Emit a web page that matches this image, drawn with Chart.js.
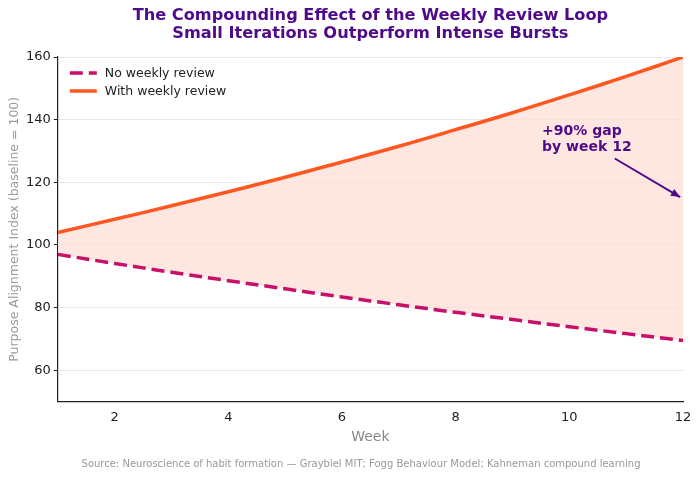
<!DOCTYPE html>
<html>
<head>
<meta charset="utf-8">
<script src="https://cdn.jsdelivr.net/npm/chart.js@4/dist/chart.umd.min.js"></script>
<style>
    html, body { margin: 0; padding: 0; background: #fff; }
    #wrap { width: 700px; height: 480px; }
</style>
</head>
<body>
<div id="wrap"><canvas id="chart"></canvas></div>
<script>
const weeks = [1, 2, 3, 4, 5, 6, 7, 8, 9, 10, 11, 12];
const noReview = [97, 94.1, 91.3, 88.6, 86.0, 83.4, 80.9, 78.5, 76.2, 73.9, 71.7, 69.5];
const withReview = [104, 108.2, 112.5, 117.0, 121.6, 126.5, 131.5, 136.8, 142.2, 147.9, 153.8, 160];
const xTicks = [2, 4, 6, 8, 10, 12];
const yTicks = [60, 80, 100, 120, 140, 160];

const titleLines = ['The Compounding Effect of the Weekly Review Loop', 'Small Iterations Outperform Intense Bursts'];
const sourceText = 'Source: Neuroscience of habit formation \u2014 Graybiel MIT; Fogg Behaviour Model; Kahneman compound learning';

const purple = '#4f0a8a';
const font = "'DejaVu Sans', sans-serif";

// title over the plot area and source line under it
const texts = {
    id: 'texts',
    afterDraw(chart) {
        const ctx = chart.ctx;
        const area = chart.chartArea;
        const cx = (area.left + area.right) / 2;
        ctx.save();
        ctx.textAlign = 'center';
        ctx.textBaseline = 'middle';
        ctx.fillStyle = purple;
        ctx.font = 'bold 16.2px ' + font;
        ctx.fillText(titleLines[0], cx, 16);
        ctx.fillText(titleLines[1], cx, 34);
        ctx.fillStyle = '#999';
        ctx.font = '10px ' + font;
        ctx.fillText(sourceText, chart.width / 2 + 11, 464);
        ctx.restore();
    }
};

// legend drawn inside the plot, stacked like the original
const innerLegend = {
    id: 'innerLegend',
    afterDraw(chart) {
        const ctx = chart.ctx;
        const area = chart.chartArea;
        ctx.save();
        chart.data.datasets.forEach((ds, i) => {
            const y = area.top + 16 + i * 18;
            const x = area.left + 12;
            ctx.strokeStyle = ds.borderColor;
            ctx.lineWidth = ds.borderWidth;
            ctx.setLineDash(ds.borderDash || []);
            ctx.beginPath();
            ctx.moveTo(x, y);
            ctx.lineTo(x + 27, y);
            ctx.stroke();
            ctx.setLineDash([]);
            ctx.fillStyle = '#222';
            ctx.font = '12.5px ' + font;
            ctx.textBaseline = 'middle';
            ctx.fillText(ds.label, x + 35, y + 1);
        });
        ctx.restore();
    }
};

// "+90% gap" note with arrow, placed in data coordinates
const gapNote = {
    id: 'gapNote',
    afterDraw(chart) {
        const xs = chart.scales.x, ys = chart.scales.y;
        const ctx = chart.ctx;
        ctx.save();
        ctx.fillStyle = purple;
        ctx.font = 'bold 14px ' + font;
        ctx.textBaseline = 'middle';
        const tx = xs.getPixelForValue(9.52);
        ctx.fillText('+90% gap', tx, ys.getPixelForValue(136.3));
        ctx.fillText('by week 12', tx, ys.getPixelForValue(131.2));
        const x0 = xs.getPixelForValue(10.8), y0 = ys.getPixelForValue(127.6);
        const x1 = xs.getPixelForValue(11.95), y1 = ys.getPixelForValue(115.3);
        ctx.strokeStyle = purple;
        ctx.lineWidth = 2;
        ctx.beginPath();
        ctx.moveTo(x0, y0);
        ctx.lineTo(x1, y1);
        ctx.stroke();
        const a = Math.atan2(y1 - y0, x1 - x0);
        ctx.beginPath();
        ctx.moveTo(x1, y1);
        ctx.lineTo(x1 - 10 * Math.cos(a - 0.4), y1 - 10 * Math.sin(a - 0.4));
        ctx.lineTo(x1 - 10 * Math.cos(a + 0.4), y1 - 10 * Math.sin(a + 0.4));
        ctx.closePath();
        ctx.fill();
        ctx.restore();
    }
};

const data = {
    labels: weeks,
    datasets: [
        {
            label: 'No weekly review',
            data: weeks.map((w, i) => ({ x: w, y: noReview[i] })),
            borderColor: '#c8106a',
            borderWidth: 3.5,
            borderDash: [13, 6],
            pointRadius: 0,
            tension: 0.4,
            fill: false
        },
        {
            label: 'With weekly review',
            data: weeks.map((w, i) => ({ x: w, y: withReview[i] })),
            borderColor: '#ff5722',
            borderWidth: 3.5,
            pointRadius: 0,
            tension: 0.4,
            fill: { target: 0 },
            backgroundColor: 'rgba(253, 223, 215, 0.75)'
        }
    ]
};

const options = {
    responsive: true,
    maintainAspectRatio: false,
    animation: false,
    layout: { padding: { left: 3, right: 17, top: 57, bottom: 34 } },
    scales: {
        x: {
            type: 'linear',
            min: 1,
            max: 12,
            afterBuildTicks: (s) => { s.ticks = xTicks.map(v => ({ value: v })); },
            grid: { display: false, drawTicks: true, tickLength: 4, tickColor: '#222' },
            border: { display: true, color: '#222', width: 1.2 },
            ticks: { color: '#222', font: { family: font, size: 13 }, padding: 4, maxRotation: 0 },
            title: { display: true, text: 'Week', color: '#888', font: { family: font, size: 14 }, padding: { top: 0, bottom: 0 } }
        },
        y: {
            min: 50,
            max: 160,
            afterBuildTicks: (s) => { s.ticks = yTicks.map(v => ({ value: v })); },
            grid: { color: '#e8e8e8', lineWidth: 1, drawTicks: true, tickLength: 4, tickColor: '#222' },
            border: { display: true, color: '#222', width: 1.2 },
            ticks: { color: '#222', font: { family: font, size: 13 }, padding: 3 },
            title: { display: true, text: 'Purpose Alignment Index (baseline = 100)', color: '#999', font: { family: font, size: 12.5 }, padding: { bottom: 1 } }
        }
    },
    plugins: {
        legend: { display: false },
        tooltip: { enabled: false },
        title: { display: false },
        subtitle: { display: false }
    }
};

const chart = new Chart(
    document.getElementById('chart'),
    { type: 'line', data: data, options: options, plugins: [texts, innerLegend, gapNote] }
);
</script>
</body>
</html>
